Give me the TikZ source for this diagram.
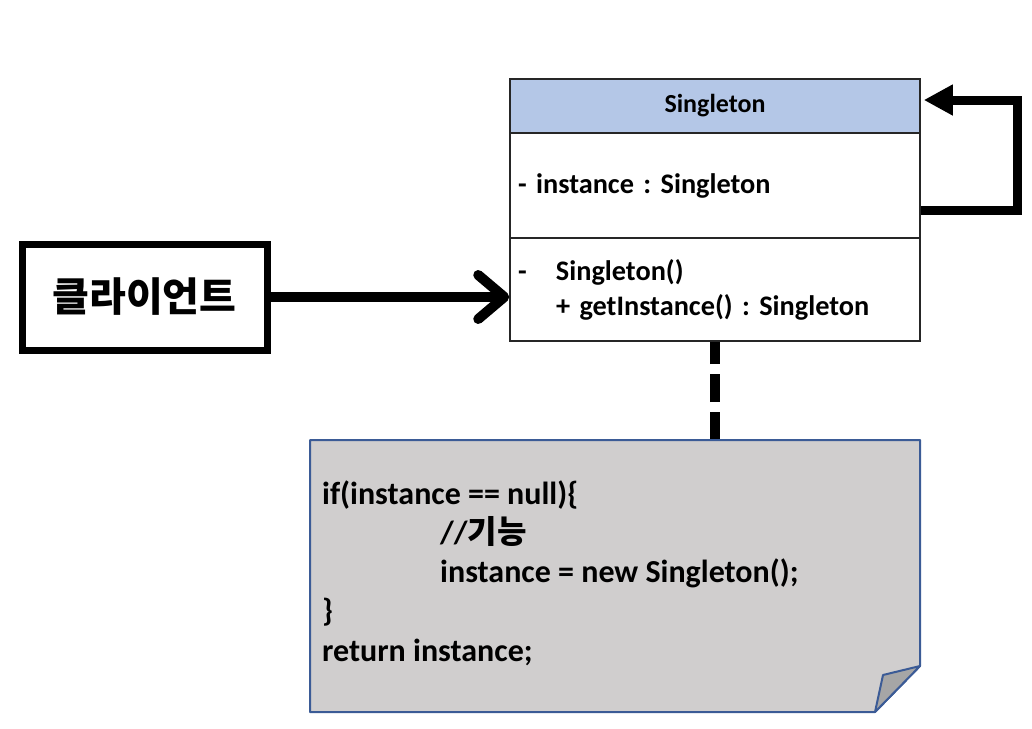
\documentclass[tikz,border=0pt]{standalone}
\usepackage{fontspec}
\setmainfont{Carlito}
\newfontfamily\kr{Noto Sans CJK KR}
\usetikzlibrary{arrows.meta,calc}
\definecolor{headblue}{HTML}{B4C7E7}
\definecolor{notegray}{HTML}{D0CECE}
\definecolor{foldgray}{HTML}{A6A6A6}
\definecolor{noteline}{HTML}{3B5B96}
\frenchspacing

\begin{document}
\begin{tikzpicture}[x=1pt,y=-1pt,
  compartment/.style={draw=black!85,line width=1.5pt,minimum width=410pt,inner sep=0pt,
    font=\bfseries\fontsize{28.3}{35}\selectfont},
  members/.style={compartment,text width=394pt,align=left},
  thickarrow/.style={line width=10pt,-{Straight Barb[length=26pt,width=44pt,round]}},
  selfarrow/.style={line width=9pt,-{Triangle[length=29pt,width=29pt]}},
  notelink/.style={line width=10pt,dash pattern=on 28pt off 10pt},
  notebody/.style={draw=noteline,line width=2pt,line join=round}]
\useasboundingbox (0,0) rectangle (1032,728);

\node[draw,line width=7pt,minimum width=245pt,minimum height=106pt,
  font=\kr\bfseries\fontsize{40}{44}\selectfont] (client) at (144.5,297) {클라이언트};

\node[compartment,fill=headblue,minimum height=54pt,
  font=\bfseries\fontsize{26}{30}\selectfont] (header) at (715,106) {Singleton};
\node[members,minimum height=105pt] (attr) at (715,185.5) {- instance : Singleton};
\node[members,minimum height=103pt] (methods) at (715,289.5)
  {\makebox[38pt][l]{-}Singleton()\\\hspace*{38pt}+ getInstance() : Singleton};

\draw[thickarrow] (client) -- (methods.west |- client);
\draw[selfarrow] ($(attr.east)+(0,25)$) -| ($(header.east)+(97,-6)$) -- ($(header.east)+(3,-6)$);

\coordinate (notetop) at (715,440);
\draw[notelink] (notetop) -- (methods.south);

\draw[notebody,fill=notegray] (310,440) -- (920,440) -- (920,666) -- (875,712) -- (310,712) -- cycle;
\draw[notebody,fill=foldgray] (875,712) -- (883,675) -- (920,666) -- cycle;
\node[anchor=base west,inner sep=0pt,align=left,font=\bfseries\fontsize{32}{39.25}\selectfont] (code) at (322,661)
  {if(instance == null)\{\\
   \hspace*{118pt}//{\kr 기능}\\
   \hspace*{118pt}instance = new Singleton();\\
   \}\\
   return instance;};
\end{tikzpicture}
\end{document}
